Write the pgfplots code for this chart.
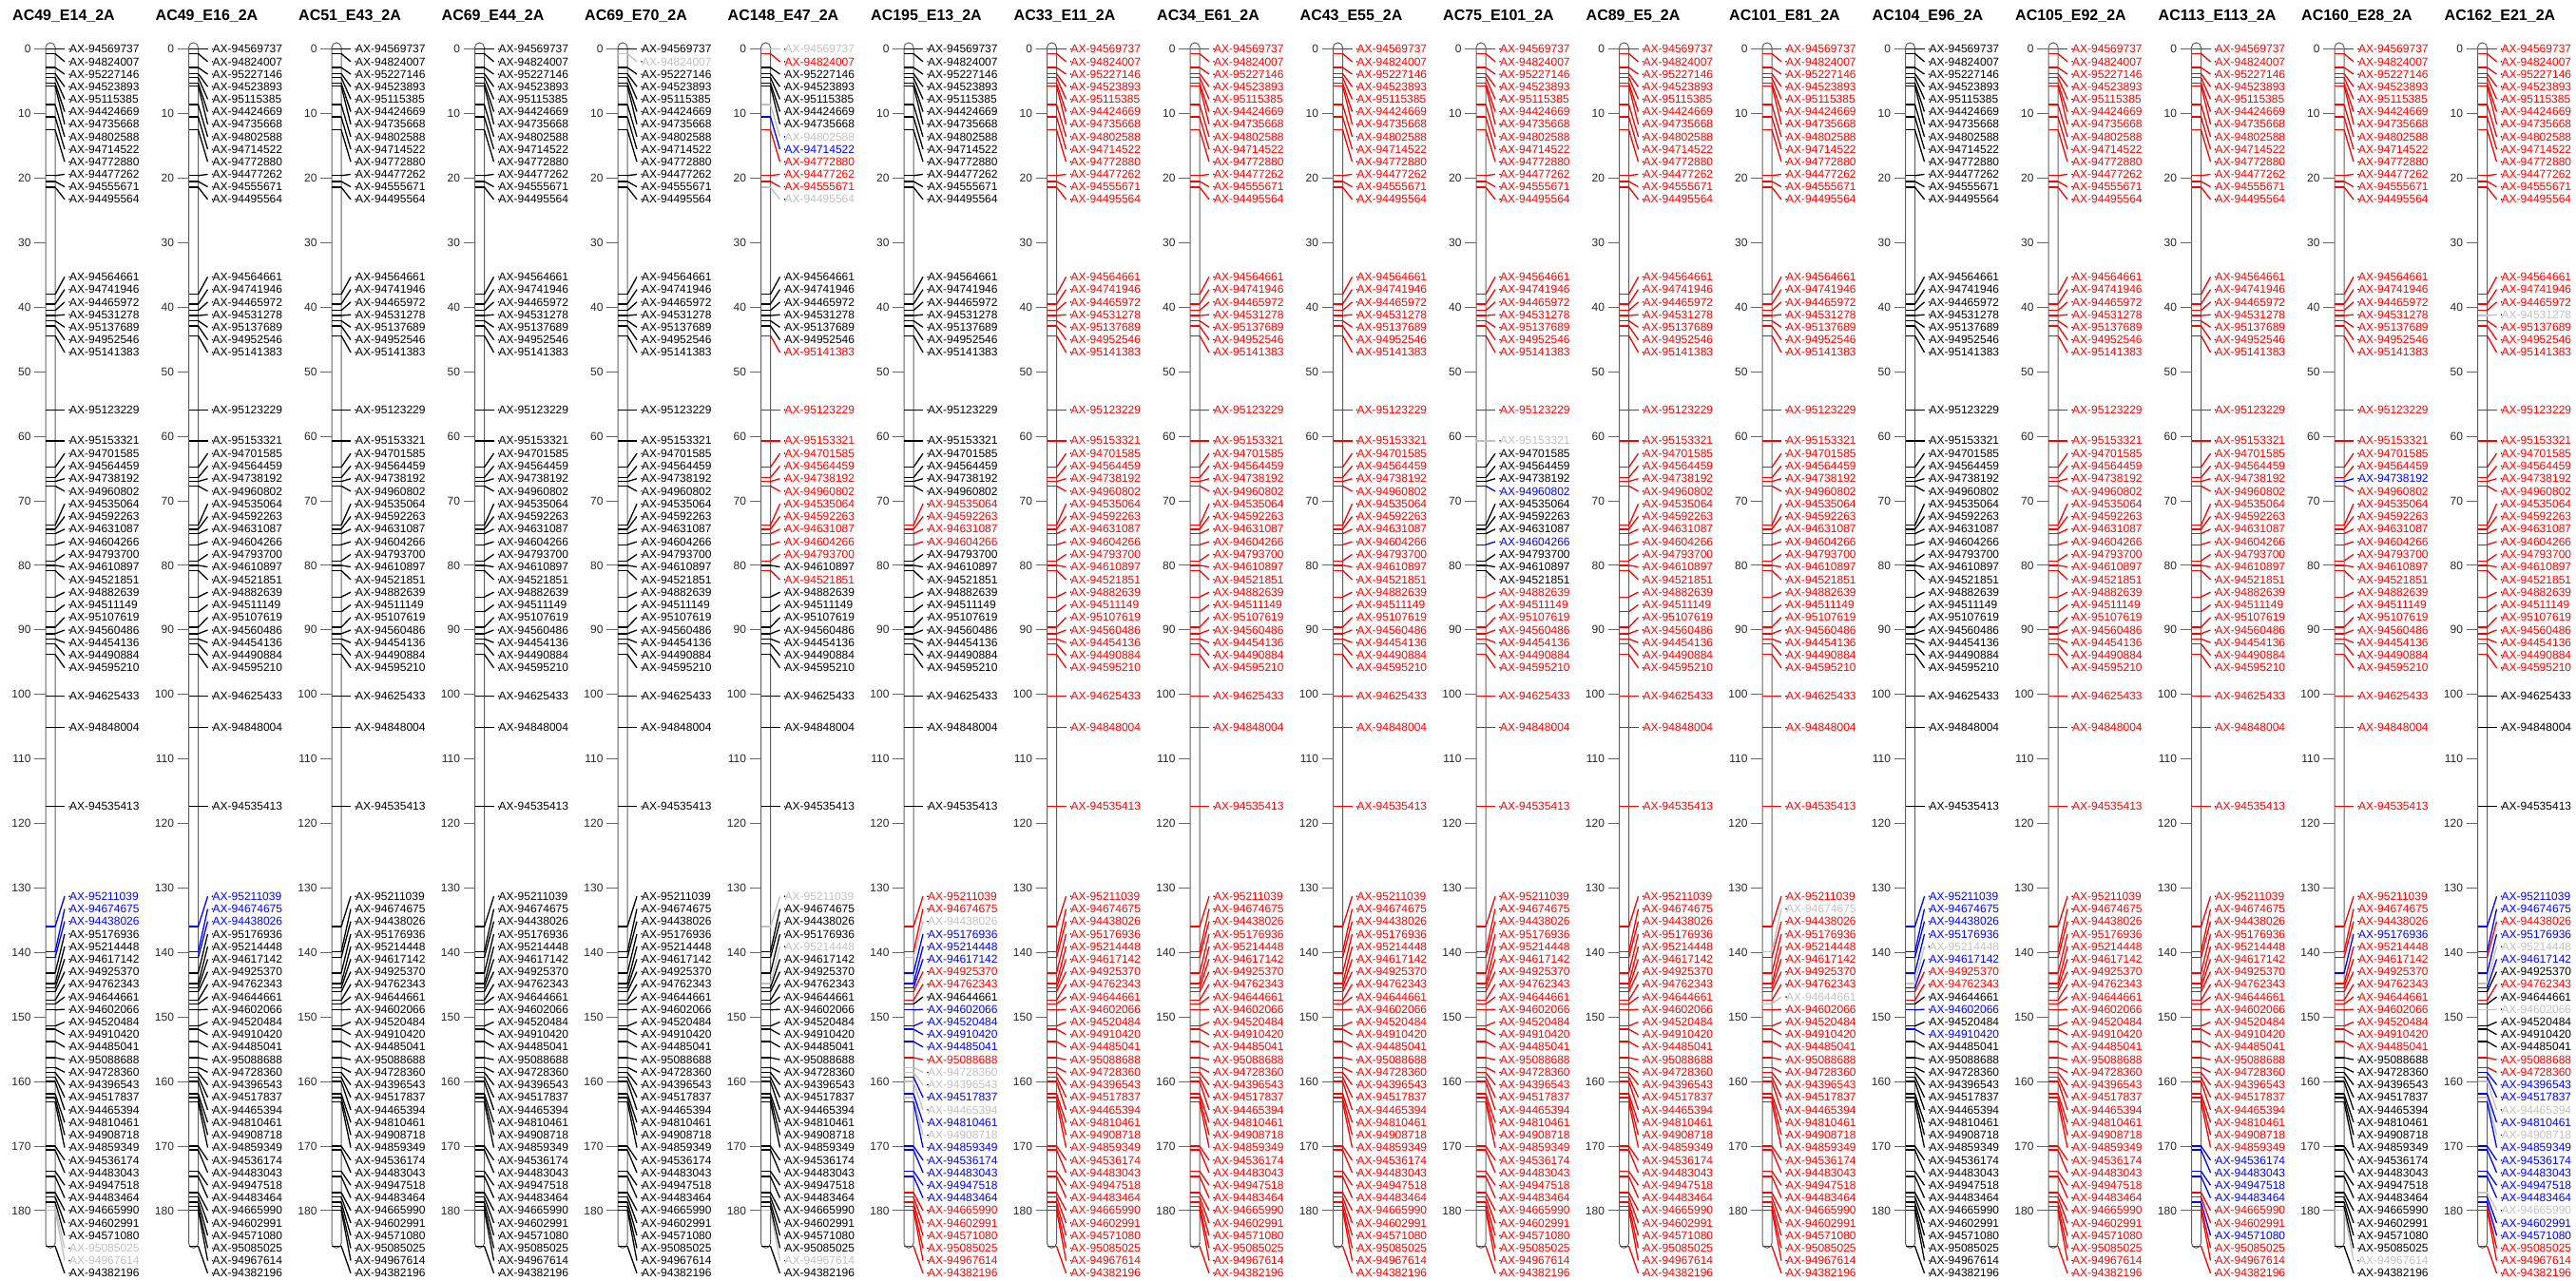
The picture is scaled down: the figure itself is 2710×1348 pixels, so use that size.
\documentclass[border=0pt]{standalone}
\usepackage{fontspec}
\setmainfont{Liberation Sans}
\usepackage{pgfplots}
\pgfplotsset{compat=1.18}
\usepackage{pgfplotstable}

% genotype codes: 0 black, 1 red, 2 blue, 3 grey (missing)
\colorlet{col0}{black}
\definecolor{col1}{RGB}{255,0,0}
\definecolor{col2}{RGB}{0,0,255}
\definecolor{col3}{RGB}{192,192,192}
\definecolor{barline}{RGB}{95,95,95}

\newcommand\lbfont{\fontsize{12}{12}\selectfont}

% marker, position (cM), label position (cM), genotype in each of the 18 lines
\pgfplotstableread{
name pos lab p1 p2 p3 p4 p5 p6 p7 p8 p9 p10 p11 p12 p13 p14 p15 p16 p17 p18
AX-94569737 0.0 0.00 0 0 0 0 0 3 0 1 1 1 1 1 1 0 1 1 1 1
AX-94824007 0.7 1.94 0 0 0 0 3 1 0 1 1 1 1 1 1 0 1 1 1 1
AX-95227146 2.85 3.88 0 0 0 0 0 0 0 1 1 1 1 1 1 0 1 1 1 1
AX-94523893 3.8 5.82 0 0 0 0 0 0 0 1 1 1 1 1 1 0 1 1 1 1
AX-95115385 4.4 7.76 0 0 0 0 0 0 0 1 1 1 1 1 1 0 1 1 1 1
AX-94424669 5.25 9.70 0 0 0 0 0 0 0 1 1 1 1 1 1 0 1 1 1 1
AX-94735668 5.7 11.64 0 0 0 0 0 0 0 1 1 1 1 1 1 0 1 1 1 1
AX-94802588 8.6 13.58 0 0 0 0 0 3 0 1 1 1 1 1 1 0 1 1 1 1
AX-94714522 10.5 15.52 0 0 0 0 0 2 0 1 1 1 1 1 1 0 1 1 1 1
AX-94772880 12.5 17.46 0 0 0 0 0 1 0 1 1 1 1 1 1 0 1 1 1 1
AX-94477262 19.6 19.40 0 0 0 0 0 1 0 1 1 1 1 1 1 0 1 1 1 1
AX-94555671 20.5 21.34 0 0 0 0 0 1 0 1 1 1 1 1 1 0 1 1 1 1
AX-94495564 21.4 23.28 0 0 0 0 0 3 0 1 1 1 1 1 1 0 1 1 1 1
AX-94564661 38.0 35.30 0 0 0 0 0 0 0 1 1 1 1 1 1 0 1 1 1 1
AX-94741946 39.5 37.25 0 0 0 0 0 0 0 1 1 1 1 1 1 0 1 1 1 1
AX-94465972 40.5 39.20 0 0 0 0 0 0 0 1 1 1 1 1 1 0 1 1 1 1
AX-94531278 41.3 41.15 0 0 0 0 0 0 0 1 1 1 1 1 1 0 1 1 1 3
AX-95137689 42.1 43.10 0 0 0 0 0 0 0 1 1 1 1 1 1 0 1 1 1 1
AX-94952546 42.9 45.05 0 0 0 0 0 0 0 1 1 1 1 1 1 0 1 1 1 1
AX-95141383 44.4 47.00 0 0 0 0 0 1 0 1 1 1 1 1 1 0 1 1 1 1
AX-95123229 55.9 55.90 0 0 0 0 0 1 0 1 1 1 1 1 1 0 1 1 1 1
AX-95153321 60.7 60.70 0 0 0 0 0 1 0 1 1 1 3 1 1 0 1 1 1 1
AX-94701585 64.8 62.66 0 0 0 0 0 1 0 1 1 1 0 1 1 0 1 1 1 1
AX-94564459 66.4 64.61 0 0 0 0 0 1 0 1 1 1 0 1 1 0 1 1 1 1
AX-94738192 67.0 66.57 0 0 0 0 0 1 0 1 1 1 0 1 1 0 1 1 2 1
AX-94960802 67.7 68.52 0 0 0 0 0 1 0 1 1 1 2 1 1 0 1 1 1 1
AX-94535064 73.8 70.48 0 0 0 0 0 1 1 1 1 1 0 1 1 0 1 1 1 1
AX-94592263 74.4 72.43 0 0 0 0 0 1 1 1 1 1 0 1 1 0 1 1 1 1
AX-94631087 75.1 74.39 0 0 0 0 0 1 1 1 1 1 0 1 1 0 1 1 1 1
AX-94604266 76.8 76.34 0 0 0 0 0 1 1 1 1 1 2 1 1 0 1 1 1 1
AX-94793700 79.3 78.30 0 0 0 0 0 1 0 1 1 1 0 1 1 0 1 1 1 1
AX-94610897 80.0 80.25 0 0 0 0 0 0 0 1 1 1 0 1 1 0 1 1 1 1
AX-94521851 80.8 82.21 0 0 0 0 0 1 0 1 1 1 0 1 1 0 1 1 1 1
AX-94882639 84.9 84.16 0 0 0 0 0 0 0 1 1 1 1 1 1 0 1 1 1 1
AX-94511149 87.2 86.12 0 0 0 0 0 0 0 1 1 1 1 1 1 0 1 1 1 1
AX-95107619 89.6 88.07 0 0 0 0 0 0 0 1 1 1 1 1 1 0 1 1 1 1
AX-94560486 90.6 90.03 0 0 0 0 0 0 0 1 1 1 1 1 1 0 1 1 1 1
AX-94454136 91.4 91.98 0 0 0 0 0 0 0 1 1 1 1 1 1 0 1 1 1 1
AX-94490884 92.2 93.94 0 0 0 0 0 0 0 1 1 1 1 1 1 0 1 1 1 1
AX-94595210 93.8 95.89 0 0 0 0 0 0 0 1 1 1 1 1 1 0 1 1 1 1
AX-94625433 100.3 100.30 0 0 0 0 0 0 0 1 1 1 1 1 1 0 1 1 1 0
AX-94848004 105.1 105.10 0 0 0 0 0 0 0 1 1 1 1 1 1 0 1 1 1 0
AX-94535413 117.4 117.40 0 0 0 0 0 0 0 1 1 1 1 1 1 0 1 1 1 0
AX-95211039 136.0 131.30 2 2 0 0 0 3 1 1 1 1 1 1 1 2 1 1 1 2
AX-94674675 139.9 133.25 2 2 0 0 0 0 1 1 1 1 1 1 3 2 1 1 1 2
AX-94438026 140.8 135.19 2 2 0 0 0 0 3 1 1 1 1 1 1 2 1 1 1 1
AX-95176936 143.2 137.14 0 0 0 0 0 0 2 1 1 1 1 1 1 2 1 1 2 2
AX-95214448 144.8 139.09 0 0 0 0 0 3 2 1 1 1 1 1 1 3 1 1 1 3
AX-94617142 145.5 141.04 0 0 0 0 0 0 2 1 1 1 1 1 1 2 1 1 1 2
AX-94925370 146.1 142.98 0 0 0 0 0 0 1 1 1 1 1 1 1 1 1 1 1 0
AX-94762343 147.4 144.93 0 0 0 0 0 0 1 1 1 1 1 1 1 1 1 1 1 1
AX-94644661 148.0 146.88 0 0 0 0 0 0 0 1 1 1 1 1 3 0 1 1 1 0
AX-94602066 148.9 148.82 0 0 0 0 0 0 2 1 1 1 1 1 1 2 1 1 1 3
AX-94520484 151.4 150.77 0 0 0 0 0 0 2 1 1 1 1 1 1 0 1 1 1 0
AX-94910420 151.9 152.72 0 0 0 0 0 0 2 1 1 1 1 1 1 2 1 1 1 0
AX-94485041 153.8 154.66 0 0 0 0 0 0 2 1 1 1 1 1 1 0 1 1 1 0
AX-95088688 156.3 156.61 0 0 0 0 0 0 1 1 1 1 1 1 1 0 1 1 0 1
AX-94728360 157.8 158.56 0 0 0 0 0 0 3 1 1 1 1 1 1 0 1 1 0 1
AX-94396543 158.6 160.51 0 0 0 0 0 0 3 1 1 1 1 1 1 0 1 1 0 2
AX-94517837 159.3 162.45 0 0 0 0 0 0 2 1 1 1 1 1 1 0 1 1 0 2
AX-94465394 160.0 164.40 0 0 0 0 0 0 3 1 1 1 1 1 1 0 1 1 0 3
AX-94810461 161.9 166.35 0 0 0 0 0 0 2 1 1 1 1 1 1 0 1 1 0 2
AX-94908718 162.5 168.29 0 0 0 0 0 0 3 1 1 1 1 1 1 0 1 1 0 3
AX-94859349 163.2 170.24 0 0 0 0 0 0 2 1 1 1 1 1 1 0 1 1 0 2
AX-94536174 170.0 172.19 0 0 0 0 0 0 2 1 1 1 1 1 1 0 1 2 0 2
AX-94483043 170.6 174.13 0 0 0 0 0 0 2 1 1 1 1 1 1 0 1 2 0 2
AX-94947518 173.9 176.08 0 0 0 0 0 0 2 1 1 1 1 1 1 0 1 2 0 2
AX-94483464 174.7 178.03 0 0 0 0 0 0 2 1 1 1 1 1 1 0 1 2 0 2
AX-94665990 177.2 179.98 0 0 0 0 0 0 1 1 1 1 1 1 1 0 1 1 0 3
AX-94602991 177.9 181.92 0 0 0 0 0 0 1 1 1 1 1 1 1 0 1 1 0 2
AX-94571080 178.7 183.87 0 0 0 0 0 0 1 1 1 1 1 1 1 0 1 2 0 2
AX-95085025 179.4 185.82 3 0 0 0 0 0 1 1 1 1 1 1 1 0 1 1 0 1
AX-94967614 179.9 187.76 3 0 0 0 0 3 1 1 1 1 1 1 1 0 1 1 3 1
AX-94382196 185.5 189.71 0 0 0 0 0 0 1 1 1 1 1 1 1 0 1 1 0 1
}\markers

\pgfplotsset{
  chrom/.style={
    scale only axis, width=100pt, height=1348pt,
    xmin=0, xmax=100, ymin=-7.614, ymax=190.913, y dir=reverse,
    clip=false,
    axis x line=none, axis y line*=left, y axis line style={draw=none},
    ytick={0,10,...,180}, tick align=outside, major tick length=12pt,
    tick style={black!60, line width=1pt},
    yticklabel style={font=\lbfont, text=black!85},
    /pgf/number format/assume math mode=true,
    title style={at={(axis description cs:-0.35,0.983)}, anchor=west,
      font=\bfseries\fontsize{16}{16}\selectfont, inner sep=0pt},
  },
}

% #1 panel index, #2 title, #3 genotype column, #4 codes present
\newcommand\panel[4]{%
\begin{axis}[chrom, at={({(150.5*#1+48)*1pt},0pt)}, anchor=north west, title={#2}]
  \addplot[barline, line width=1pt, rounded corners=5pt]
    coordinates {(5,-1) (10,-1) (10,185.8) (0,185.8) (0,-1) (5,-1)};
  \pgfplotsinvokeforeach{#4}{%
    \addplot[col##1, line width=1.3pt, quiver={u=10, v=0},
      restrict expr to domain={\thisrow{#3}}{##1:##1}]
      table[x expr=0, y=pos] {\markers};
    \addplot[col##1, line width=1.3pt, quiver={u=10, v=\thisrow{lab}-\thisrow{pos}},
      restrict expr to domain={\thisrow{#3}}{##1:##1}]
      table[x expr=10, y=pos] {\markers};
    \addplot[only marks, mark=*, mark size=0.5pt, mark options={draw=none, fill=none},
      point meta=explicit symbolic, nodes near coords,
      every node near coord/.append style={anchor=west, inner sep=0pt, font=\lbfont, text=col##1},
      restrict expr to domain={\thisrow{#3}}{##1:##1}]
      table[x expr=25, y=lab, meta=name] {\markers};
  }
\end{axis}}

\begin{document}
\begin{tikzpicture}
\useasboundingbox (0pt,0pt) rectangle (2710pt,-1348pt);
\panel{0}{AC49\_E14\_2A}{p1}{0,2,3}
\panel{1}{AC49\_E16\_2A}{p2}{0,2}
\panel{2}{AC51\_E43\_2A}{p3}{0}
\panel{3}{AC69\_E44\_2A}{p4}{0}
\panel{4}{AC69\_E70\_2A}{p5}{0,3}
\panel{5}{AC148\_E47\_2A}{p6}{3,0,2,1}
\panel{6}{AC195\_E13\_2A}{p7}{3,0,2,1}
\panel{7}{AC33\_E11\_2A}{p8}{1}
\panel{8}{AC34\_E61\_2A}{p9}{1}
\panel{9}{AC43\_E55\_2A}{p10}{1}
\panel{10}{AC75\_E101\_2A}{p11}{3,0,2,1}
\panel{11}{AC89\_E5\_2A}{p12}{1}
\panel{12}{AC101\_E81\_2A}{p13}{3,1}
\panel{13}{AC104\_E96\_2A}{p14}{3,0,2,1}
\panel{14}{AC105\_E92\_2A}{p15}{1}
\panel{15}{AC113\_E113\_2A}{p16}{2,1}
\panel{16}{AC160\_E28\_2A}{p17}{3,0,2,1}
\panel{17}{AC162\_E21\_2A}{p18}{3,0,2,1}
\end{tikzpicture}
\end{document}
